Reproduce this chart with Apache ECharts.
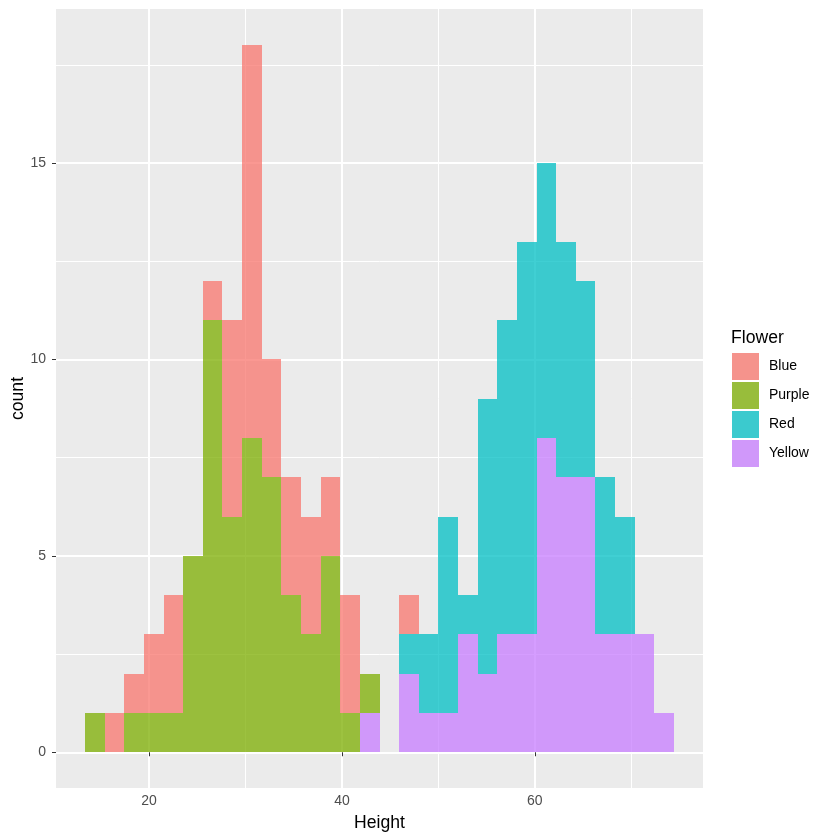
<!DOCTYPE html>
<html>
<head>
<meta charset="utf-8">
<script src="https://cdn.jsdelivr.net/npm/echarts@6/dist/echarts.min.js"></script>
<style>
  html, body { margin: 0; padding: 0; background: #fff; }
  #chart { width: 840px; height: 840px; }
</style>
</head>
<body>
<div id="chart"></div>
<script>
// histogram bins (30 bins, ggplot default)
var binStart = 13.356;
var binWidth = 2.036;

// counts per bin, per flower
var flowers = ['Blue', 'Purple', 'Red', 'Yellow'];
var blueCounts   = [0, 1, 1, 2, 3, 0, 1, 5, 10, 3, 3, 3, 2, 3, 0, 0, 1, 0, 0, 0, 0, 0, 0, 0, 0, 0, 0, 0, 0, 0];
var purpleCounts = [1, 0, 1, 1, 1, 5, 11, 6, 8, 7, 4, 3, 5, 1, 1, 0, 0, 0, 0, 0, 0, 0, 0, 0, 0, 0, 0, 0, 0, 0];
var redCounts    = [0, 0, 0, 0, 0, 0, 0, 0, 0, 0, 0, 0, 0, 0, 0, 0, 1, 2, 5, 1, 7, 8, 10, 7, 6, 5, 4, 3, 0, 0];
var yellowCounts = [0, 0, 0, 0, 0, 0, 0, 0, 0, 0, 0, 0, 0, 0, 1, 0, 2, 1, 1, 3, 2, 3, 3, 8, 7, 7, 3, 3, 3, 1];

// axis ticks
var xMajor = [20, 40, 60];
var xMinor = [10, 30, 50, 70];
var yMajor = [0, 5, 10, 15];
var yMinor = [2.5, 7.5, 12.5, 17.5];

var fills = {
    Blue:   'rgba(248,118,109,0.75)',
    Purple: 'rgba(124,174,0,0.75)',
    Red:    'rgba(0,191,196,0.75)',
    Yellow: 'rgba(199,124,255,0.75)'
};
// colours as seen over the grey panel, for legend keys
var keyFills = { Blue: '#F5938C', Purple: '#98BD3B', Red: '#3BCACE', Yellow: '#D098FA' };

var countsOf = { Blue: blueCounts, Purple: purpleCounts, Red: redCounts, Yellow: yellowCounts };

// ggplot stacks: first group on top, so build from Yellow upward
var stackOrder = ['Yellow', 'Red', 'Purple', 'Blue'];
var base = blueCounts.map(function () { return 0; });
var seriesData = {};
stackOrder.forEach(function (f) {
    var rows = [];
    countsOf[f].forEach(function (c, i) {
        if (c > 0) {
            var x0 = binStart + i * binWidth;
            rows.push([x0, x0 + binWidth, base[i], base[i] + c]);
        }
        base[i] += c;
    });
    seriesData[f] = rows;
});

var font = 'Liberation Sans, Arial, sans-serif';
var chart = echarts.init(document.getElementById('chart'));

// rect snapped to whole pixels so neighbouring bins have no seams
function renderBar(params, api) {
    var p0 = api.coord([api.value(0), api.value(3)]);
    var p1 = api.coord([api.value(1), api.value(2)]);
    var x0 = Math.round(p0[0]), x1 = Math.round(p1[0]);
    var y0 = Math.round(p0[1]), y1 = Math.round(p1[1]);
    return {
        type: 'rect',
        shape: { x: x0, y: y0, width: x1 - x0, height: y1 - y0 },
        style: { fill: api.visual('color') }
    };
}

var xRange = { min: 10.35, max: 77.44 };
var yRange = { min: -0.91, max: 18.92 };

var option = {
    animation: false,
    backgroundColor: '#fff',
    textStyle: { fontFamily: font },
    title: {
        text: 'Flower',
        left: 731,
        top: 329,
        padding: 0,
        textStyle: { fontSize: 17.6, fontWeight: 'normal', color: '#000', fontFamily: font }
    },
    legend: {
        orient: 'vertical',
        left: 732,
        top: 353,
        padding: 0,
        itemWidth: 27,
        itemHeight: 27,
        itemGap: 2,
        icon: 'rect',
        selectedMode: false,
        textStyle: { fontSize: 14, color: '#000', fontFamily: font, padding: [0, 0, 0, 5] },
        data: flowers.map(function (f) { return { name: f, itemStyle: { color: keyFills[f] } }; })
    },
    grid: {
        left: 56, right: 137, top: 9, bottom: 52,
        containLabel: false, outerBoundsMode: 'none',
        show: true, backgroundColor: '#EBEBEB', borderWidth: 0
    },
    xAxis: [{
        type: 'value', min: xRange.min, max: xRange.max,
        name: 'Height', nameLocation: 'middle', nameGap: 26, nameMoveOverlap: false,
        nameTextStyle: { fontSize: 17.6, color: '#000', fontFamily: font },
        axisLine: { show: false },
        axisTick: { show: true, length: 4, lineStyle: { color: '#333' }, customValues: xMajor },
        axisLabel: { fontSize: 14, color: '#4D4D4D', margin: 6, customValues: xMajor },
        splitLine: { show: true, lineStyle: { color: '#fff', width: 2 } }
    }, {
        type: 'value', min: xRange.min, max: xRange.max, position: 'bottom',
        axisLine: { show: false },
        axisTick: { show: false, customValues: xMinor },
        axisLabel: { show: false, customValues: xMinor },
        splitLine: { show: true, lineStyle: { color: '#fff', width: 1 } }
    }],
    yAxis: [{
        type: 'value', min: yRange.min, max: yRange.max,
        name: 'count', nameLocation: 'middle', nameGap: 29, nameRotate: 90, nameMoveOverlap: false,
        nameTextStyle: { fontSize: 17.6, color: '#000', fontFamily: font },
        axisLine: { show: false },
        axisTick: { show: true, length: 4, lineStyle: { color: '#333' }, customValues: yMajor },
        axisLabel: { fontSize: 14, color: '#4D4D4D', margin: 10, customValues: yMajor },
        splitLine: { show: true, lineStyle: { color: '#fff', width: 2 } }
    }, {
        type: 'value', min: yRange.min, max: yRange.max, position: 'left',
        axisLine: { show: false },
        axisTick: { show: false, customValues: yMinor },
        axisLabel: { show: false, customValues: yMinor },
        splitLine: { show: true, lineStyle: { color: '#fff', width: 1 } }
    }],
    series: flowers.map(function (f) {
        return {
            name: f,
            type: 'custom',
            renderItem: renderBar,
            xAxisIndex: 0,
            yAxisIndex: 0,
            itemStyle: { color: fills[f] },
            encode: { x: [0, 1], y: [2, 3] },
            data: seriesData[f]
        };
    })
};

chart.setOption(option);
</script>
</body>
</html>
